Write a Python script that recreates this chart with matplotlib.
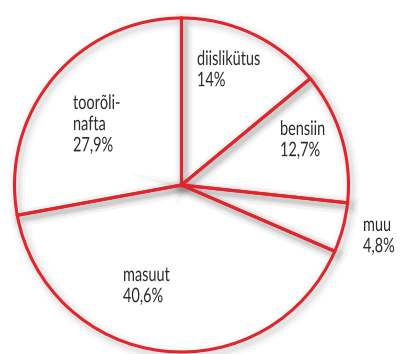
import matplotlib
matplotlib.use("Agg")
import matplotlib.pyplot as plt
from matplotlib.patheffects import AbstractPathEffect
from matplotlib.transforms import Affine2D

# Kütuste osakaal (%)
labels = ["diislikütus", "bensiin", "muu", "masuut", "toorõli-\nnafta"]
shares = [14, 12.7, 4.8, 40.6, 27.9]

# sildi vasak ülanurk pikslites (x, y ülalt)
label_pos = [(197, 51), (280, 121), (363, 217), (123, 267), (73, 95)]

plt.rcParams['font.family'] = ['Lato', 'DejaVu Sans']


class Narrow(AbstractPathEffect):
    """Kitsendab teksti horisontaalselt ümber ankrupunkti."""

    def __init__(self, ax, x, sx=0.72):
        super().__init__()
        self.ax, self.x, self.sx = ax, x, sx

    def draw_path(self, renderer, gc, tpath, affine, rgbFace=None):
        x0 = self.ax.transData.transform((self.x, 0))[0]
        squeeze = Affine2D().translate(-x0, 0).scale(self.sx, 1).translate(x0, 0)
        renderer.draw_path(gc, tpath, affine + squeeze, rgbFace)


fig = plt.figure(figsize=(4.0, 3.54), dpi=100)
ax = fig.add_axes([0, 0, 1, 1])

red = '#e0262c'
cx, cy, r = 181.5, 169, 167
common = dict(startangle=90, counterclock=False, radius=r, frame=True)

# valged sektorid
ax.pie(shares, center=(cx, cy), colors=['white'] * len(shares),
       wedgeprops=dict(linewidth=0, zorder=1), **common)
# pehme vari joonte all
for lw, a in [(12, 0.025), (8, 0.035), (5, 0.045)]:
    ax.pie(shares, center=(cx + 2.5, cy - 3), colors=['none'] * len(shares),
           wedgeprops=dict(edgecolor=(0, 0, 0, a), linewidth=lw, zorder=2),
           **common)
# punased piirjooned
ax.pie(shares, center=(cx, cy), colors=['none'] * len(shares),
       wedgeprops=dict(edgecolor=red, linewidth=2.2, zorder=3), **common)

ax.set_xlim(0, 400)
ax.set_ylim(0, 354)
ax.set_aspect('equal')
ax.axis('off')


def fmt(v):
    return f"{v:g}".replace('.', ',') + "%"


for lab, v, (x, y) in zip(labels, shares, label_pos):
    ax.text(x, 354 - y, f"{lab}\n{fmt(v)}", ha='left', va='top',
            fontsize=14.5, color='#2b2b2b', linespacing=1.3, zorder=5,
            path_effects=[Narrow(ax, x)])

fig.savefig("out.png", dpi=100)
